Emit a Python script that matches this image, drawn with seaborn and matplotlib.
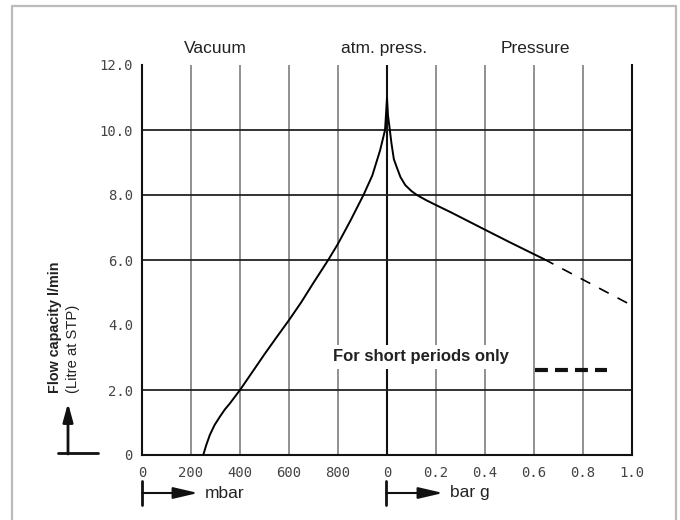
import numpy as np
import pandas as pd
import seaborn as sns
import matplotlib.pyplot as plt
from matplotlib.lines import Line2D

# vacuum side (mbar absolute) and pressure side (bar g)
vac_mbar = [250, 262, 277, 296, 318, 338, 359, 380, 400, 450, 500, 550, 600,
            650, 700, 760, 800, 850, 904, 940, 972, 992, 1000]
vac_flow = [0, 0.3, 0.62, 0.92, 1.18, 1.4, 1.59, 1.8, 2.0, 2.55, 3.1, 3.63, 4.15,
            4.7, 5.3, 6.0, 6.5, 7.2, 8.0, 8.6, 9.38, 10.0, 10.98]
pres_bar = [0, 0.004, 0.01, 0.018, 0.028, 0.04, 0.055, 0.075, 0.1, 0.122, 0.16,
            0.2, 0.26, 0.32, 0.39, 0.5, 0.64]
pres_flow = [10.98, 10.45, 10.1, 9.6, 9.1, 8.85, 8.55, 8.3, 8.12, 8.0, 7.84,
             7.69, 7.47, 7.24, 6.97, 6.55, 6.03]
short_bar = [0.64, 1.0]
short_flow = [6.03, 4.6]

x_ticklabels = ['0', '200', '400', '600', '800', '0', '0.2', '0.4', '0.6', '0.8', '1.0']
y_ticks = [0, 2, 4, 6, 8, 10, 12]
y_ticklabels = ['0', '2.0', '4.0', '6.0', '8.0', '10.0', '12.0']
h_grid = [2, 6, 8, 10]


def vac_pos(mbar):
    return np.asarray(mbar) / 200.0


def pres_pos(bar):
    return 5 + np.asarray(bar) / 0.2


vac_df = pd.DataFrame({'x': vac_pos(vac_mbar), 'flow': vac_flow})
pres_df = pd.DataFrame({'x': pres_pos(pres_bar), 'flow': pres_flow})
short_df = pd.DataFrame({'x': pres_pos(short_bar), 'flow': short_flow})

sns.set_style('white')
plt.rcParams['font.family'] = ['Liberation Sans', 'DejaVu Sans']

fig = plt.figure(figsize=(6.8, 5.2), dpi=100)
ax = fig.add_axes([142 / 680, 1 - 455 / 520, 490 / 680, 390 / 520])

# grid
for u in [1, 2, 3, 4, 6, 7, 8, 9]:
    ax.axvline(u, color='#888888', lw=1.3, zorder=1)
ax.axvline(5, color='#111111', lw=1.5, zorder=2)
for h in h_grid:
    ax.axhline(h, color='#222222', lw=1.3, zorder=2)

sns.lineplot(data=vac_df, x='x', y='flow', sort=False, estimator=None,
             color='black', lw=1.4, ax=ax, zorder=4)
sns.lineplot(data=pres_df, x='x', y='flow', sort=False, estimator=None,
             color='black', lw=1.4, ax=ax, zorder=4)
sns.lineplot(data=short_df, x='x', y='flow', sort=False, estimator=None,
             color='black', lw=1.2, ax=ax, zorder=4, dashes=False)
ax.lines[-1].set_dashes((6.5, 6))

ax.set_xlim(0, 10)
ax.set_ylim(0, 12)
ax.set_xticks(range(11))
ax.set_xticklabels(x_ticklabels)
ax.set_yticks(y_ticks)
ax.set_yticklabels(y_ticklabels)
ax.set_xlabel('')
ax.set_ylabel('')
ax.tick_params(length=0, labelsize=10, labelcolor='#444444')
ax.tick_params(axis='x', pad=8)
ax.tick_params(axis='y', pad=6.5)
for lab in ax.get_xticklabels() + ax.get_yticklabels():
    lab.set_family('DejaVu Sans Mono')

for side in ['left', 'right', 'bottom']:
    ax.spines[side].set_color('#111111')
    ax.spines[side].set_linewidth(1.5)
ax.spines['top'].set_visible(False)

# headings
for u, txt in [(1.49, 'Vacuum'), (4.94, 'atm. press.'), (8.02, 'Pressure')]:
    ax.text(u, 12.52, txt, ha='center', va='center', fontsize=12.5,
            color='#222222', clip_on=False)

# short periods legend
ax.text(3.9, 3.02, 'For short periods only', ha='left', va='center',
        fontsize=12, fontweight='bold', color='#222222', zorder=5,
        bbox=dict(facecolor='white', edgecolor='none', pad=3))
ax.plot([8.02, 9.49], [2.62, 2.62], color='#111111', lw=3,
        dashes=(3.1, 1.7), zorder=5, solid_capstyle='butt')

# y label
fig.text(55 / 680, 1 - 393 / 520, 'Flow capacity l/min', rotation=90,
         rotation_mode='anchor', ha='left', va='center', fontsize=10.4,
         fontweight='bold', color='#222222')
fig.text(73 / 680, 1 - 393 / 520, '(Litre at STP)', rotation=90,
         rotation_mode='anchor', ha='left', va='center', fontsize=10.6,
         color='#222222')


def fx(px):
    return px / 680


def fy(py):
    return 1 - py / 520


# upward arrow
fig.add_artist(Line2D([fx(58), fx(98)], [fy(453), fy(453)], color='#111111',
                      lw=2, transform=fig.transFigure))
ax.annotate('', xy=(fx(68), fy(403)), xytext=(fx(68), fy(454)),
            xycoords='figure fraction', textcoords='figure fraction',
            arrowprops=dict(arrowstyle='-|>,head_width=0.3,head_length=1.1',
                            color='#111111', lw=2, shrinkA=0, shrinkB=0))

# unit arrows under the x axis
for x0, x1, label in [(142, 198, 'mbar'), (386, 443, 'bar g')]:
    fig.add_artist(Line2D([fx(x0), fx(x0)], [fy(481), fy(505)], color='#111111',
                          lw=2, transform=fig.transFigure))
    ax.annotate('', xy=(fx(x1), fy(493)), xytext=(fx(x0), fy(493)),
                xycoords='figure fraction', textcoords='figure fraction',
                arrowprops=dict(arrowstyle='-|>,head_width=0.35,head_length=1.5',
                                color='#111111', lw=1.5, shrinkA=0, shrinkB=0))
    fig.text(fx(x1 + 7), fy(493), label, ha='left', va='center',
             fontsize=12.5, color='#222222')

# outer frame
frame_kw = dict(color='#bbbbbb', lw=1.6, transform=fig.transFigure)
fig.add_artist(Line2D([fx(12), fx(12)], [0, fy(6)], **frame_kw))
fig.add_artist(Line2D([fx(12), fx(676)], [fy(6), fy(6)], **frame_kw))
fig.add_artist(Line2D([fx(676), fx(676)], [fy(6), 0], **frame_kw))

fig.savefig('out.png', dpi=100)
